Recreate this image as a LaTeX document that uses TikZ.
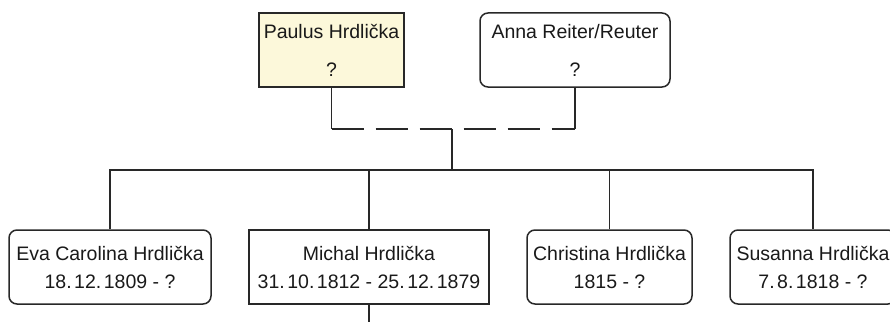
\documentclass[tikz,border=0pt]{standalone}
\usepackage{fontspec}
\setmainfont{Liberation Sans}
\definecolor{linec}{RGB}{40,40,40}
\definecolor{textc}{RGB}{25,25,25}
\definecolor{paulfill}{RGB}{252,248,218}
\newcommand{\dt}{.\kern2.5pt}
\begin{document}
\begin{tikzpicture}[x=1pt,y=-1pt,
  person/.style={draw=linec, line width=1.5pt, text=textc, align=center,
    minimum height=74pt, inner sep=0pt,
    font=\fontsize{19.5}{28}\selectfont},
  roundbox/.style={person, rounded corners=8pt},
  sqbox/.style={person},
  conn/.style={draw=linec, line width=1.5pt}]
\useasboundingbox (0,0) rectangle (890,321);
\clip (0,0) rectangle (890,321);

% parents
\node[sqbox, fill=paulfill, minimum width=145pt] (paulus) at (331.5,50) {Paulus Hrdlička\\[10pt]?};
\node[roundbox, minimum width=190pt] (anna) at (575,50) {Anna Reiter/Reuter\\[10pt]?};

% children
\node[roundbox, minimum width=202pt] (eva) at (110,267) {Eva Carolina Hrdlička\\18\dt12\dt1809 - ?};
\node[sqbox, minimum width=240pt] (michal) at (369,267) {Michal Hrdlička\\31\dt10\dt1812 - 25\dt12\dt1879};
\node[roundbox, minimum width=165pt] (christina) at (609.5,267) {Christina Hrdlička\\1815 - ?};
\node[roundbox, minimum width=166pt] (susanna) at (813,267) {Susanna Hrdlička\\7\dt8\dt1818 - ?};

% junction points
\coordinate (pj) at (331.5,129);
\coordinate (aj) at (575,129);
\coordinate (mid) at (452,129);
\coordinate (hub) at (452,170);
\coordinate (below) at (369,330);

% couple connector
\draw[conn] (paulus.south) -- (pj);
\draw[conn, dash pattern=on 32pt off 12pt] (pj) -- (aj);
\draw[conn] (aj) -- (anna.south);
\draw[conn] (mid) -- (hub);

% sibling bar
\draw[conn] (eva.north) -- (eva.north |- hub) -- (susanna.north |- hub) -- (susanna.north);
\draw[conn] (michal.north) -- (michal.north |- hub);
\draw[conn] (christina.north) -- (christina.north |- hub);
\draw[conn] (michal.south) -- (below);
\end{tikzpicture}
\end{document}
